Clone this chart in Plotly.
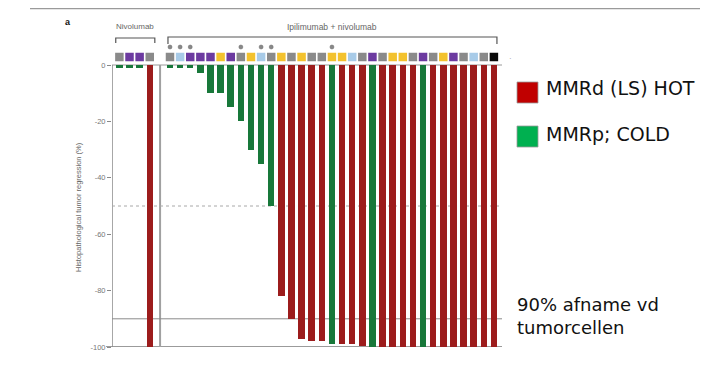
import plotly.graph_objects as go

# ---------------- data ----------------
nivo_values = [-1.2, -1.2, -1.2, -100]
nivo_status = ["MMRp", "MMRp", "MMRp", "MMRd"]
nivo_types = ["gray", "purple", "purple", "gray"]

combo_values = [-1.2, -1.2, -1.2, -3, -10, -10, -15, -20, -30, -35, -50,
                -82, -90, -97, -98, -98, -99, -99, -99, -99.5, -100,
                -100, -100, -100, -100, -100, -100, -100, -100, -100, -100, -100, -100]
combo_status = ["MMRp"] * 11 + ["MMRd"] * 5 + ["MMRp"] + ["MMRd"] * 3 + ["MMRp"] + \
               ["MMRd"] * 4 + ["MMRp"] + ["MMRd"] * 7
combo_types = ["gray", "lightblue", "purple", "purple", "purple", "yellow", "purple", "gray",
               "yellow", "lightblue", "gray", "yellow", "gray", "yellow", "gray", "gray",
               "yellow", "yellow", "lightblue", "gray", "purple", "gray", "yellow", "yellow",
               "gray", "purple", "gray", "yellow", "purple", "gray", "lightblue", "gray", "black"]
combo_star_idx = [0, 1, 2, 7, 9, 10, 16]

y_ticks = [0, -20, -40, -60, -80, -100]
y_tick_labels = ["0", "-20", "-40", "-60", "-80", "-100"]
ref_lines = {"dashed": -50, "solid": -90}

legend_labels = ["MMRd (LS) HOT", "MMRp; COLD"]
legend_colors = ["#c00000", "#00b050"]
note_text = "90% afname vd<br>tumorcellen"

# ---------------- styles ----------------
status_color = {"MMRd": "#9c1c1c", "MMRp": "#18783a"}
type_color = {"gray": "#8a8a8a", "purple": "#6c3aa0", "yellow": "#f3c22e",
              "lightblue": "#a8cbe8", "black": "#0a0a0a"}

nivo_x = list(range(len(nivo_values)))
combo_x = [5 + i for i in range(len(combo_values))]

xs = nivo_x + combo_x
ys = nivo_values + combo_values
cols = [status_color[s] for s in nivo_status + combo_status]
sq_cols = [type_color[t] for t in nivo_types + combo_types]

# pixel geometry (reference-window pixels; page body adds an 8px offset)
OFF = 8
W, H = 715 - OFF, 369 - OFF
L, R_px = 112, 502
T_px, B_px = 9, 347
XR = [-0.73, 37.8]
YR = [-100, (B_px - T_px) / 2.82 - 100]


def pxx(px):
    return (px - L) / (R_px - L)


def pxy(py):
    return (B_px - py) / (B_px - T_px)


def ydat(py):
    return (B_px - py) / 2.82 - 100


fig = go.Figure()

fig.add_trace(go.Bar(x=xs, y=ys, marker=dict(color=cols, line=dict(width=0)),
                     width=0.64, showlegend=False, hoverinfo="skip"))

# type squares
fig.add_trace(go.Scatter(x=xs, y=[ydat(57)] * len(xs), mode="markers",
                         marker=dict(symbol="square", size=8.5, color=sq_cols, line=dict(width=0)),
                         showlegend=False, hoverinfo="skip"))

# stars
fig.add_trace(go.Scatter(x=[combo_x[i] for i in combo_star_idx],
                         y=[ydat(47)] * len(combo_star_idx), mode="markers",
                         marker=dict(symbol="circle", size=4, color="#888",
                                     line=dict(color="#666", width=0.5)),
                         showlegend=False, hoverinfo="skip"))

shapes = []
# frame lines
shapes.append(dict(type="line", xref="x", yref="y", x0=XR[0], x1=XR[1], y0=0, y1=0,
                   line=dict(color="#9a9a9a", width=1), layer="below"))
shapes.append(dict(type="line", xref="paper", yref="y", x0=pxx(106), x1=1.0, y0=-100, y1=-100,
                   line=dict(color="#7a7a7a", width=1.5), layer="below"))
shapes.append(dict(type="line", xref="x", yref="y", x0=XR[0], x1=XR[0], y0=0, y1=-100,
                   line=dict(color="#8a8a8a", width=1.5), layer="below"))
shapes.append(dict(type="line", xref="x", yref="y", x0=4.02, x1=4.02, y0=0, y1=-100,
                   line=dict(color="#a0a0a0", width=2), layer="below"))
shapes.append(dict(type="line", xref="x", yref="y", x0=XR[0], x1=XR[1],
                   y0=ref_lines["dashed"], y1=ref_lines["dashed"],
                   line=dict(color="#a8a8a8", width=1, dash="dot"), layer="below"))
shapes.append(dict(type="line", xref="x", yref="y", x0=XR[0], x1=XR[1],
                   y0=ref_lines["solid"], y1=ref_lines["solid"],
                   line=dict(color="#8a8a8a", width=1), layer="below"))
# top border line
shapes.append(dict(type="line", xref="paper", yref="paper", x0=pxx(30), x1=pxx(700),
                   y0=pxy(8.5), y1=pxy(8.5), line=dict(color="#9a9a9a", width=1.5)))
# brackets
for (xa, xb, ytop, ybot) in [(-0.36, 3.5, ydat(38), ydat(43)), (4.8, 37.3, ydat(37), ydat(44))]:
    shapes.append(dict(type="path", xref="x", yref="y",
                       path=f"M {xa},{ybot} L {xa},{ytop} L {xb},{ytop} L {xb},{ybot}",
                       line=dict(color="#555", width=1.2)))
# legend squares
for i, c in enumerate(legend_colors):
    y0 = [82, 126][i]
    shapes.append(dict(type="rect", xref="paper", yref="paper", x0=pxx(517), x1=pxx(538),
                       y0=pxy(y0 + 21), y1=pxy(y0), fillcolor=c,
                       line=dict(color="#9a9a9a", width=0.8)))

annotations = []
annotations.append(dict(x=1.5, y=ydat(26), xref="x", yref="y", text="Nivolumab",
                        xanchor="center", showarrow=False,
                        font=dict(size=8, color="#666", family="Arial")))
annotations.append(dict(x=21, y=ydat(27), xref="x", yref="y", text="Ipilimumab + nivolumab",
                        xanchor="center", showarrow=False,
                        font=dict(size=8.5, color="#666", family="Arial")))
annotations.append(dict(x=pxx(78), y=pxy(207), xref="paper", yref="paper",
                        text="Histopathological tumor regression (%)", textangle=-90,
                        xanchor="center", yanchor="middle", showarrow=False,
                        font=dict(size=7.5, color="#666", family="Arial")))
annotations.append(dict(x=pxx(68), y=pxy(22), xref="paper", yref="paper", text="<b>a</b>",
                        xanchor="center", yanchor="middle", showarrow=False,
                        font=dict(size=9, color="#111", family="Arial")))
annotations.append(dict(x=pxx(510), y=pxy(59), xref="paper", yref="paper", text="·",
                        xanchor="center", yanchor="middle", showarrow=False,
                        font=dict(size=8, color="#999", family="Arial")))
for i, lab in enumerate(legend_labels):
    annotations.append(dict(x=pxx(544), y=pxy([88, 134][i]), xref="paper", yref="paper",
                            text=lab, xanchor="left", yanchor="middle", showarrow=False,
                            font=dict(size=19, color="#111", family="DejaVu Sans")))
annotations.append(dict(x=pxx(515), y=pxy(316), xref="paper", yref="paper",
                        text=note_text, xanchor="left", yanchor="middle", align="left",
                        showarrow=False,
                        font=dict(size=18, color="#111", family="DejaVu Sans")))

fig.update_layout(
    width=W, height=H,
    margin=dict(l=L - OFF, r=W - (R_px - OFF), t=T_px - OFF, b=H - (B_px - OFF), pad=0),
    paper_bgcolor="white", plot_bgcolor="white",
    bargap=0, showlegend=False,
    shapes=shapes, annotations=annotations,
    xaxis=dict(range=XR, visible=False, fixedrange=True),
    yaxis=dict(range=YR, tickvals=y_ticks, ticktext=y_tick_labels, ticks="outside",
               ticklen=4, tickcolor="#888", showgrid=False, zeroline=False, showline=False,
               tickfont=dict(size=7.5, color="#777", family="Arial"), fixedrange=True),
)

fig.write_html("out.html")
